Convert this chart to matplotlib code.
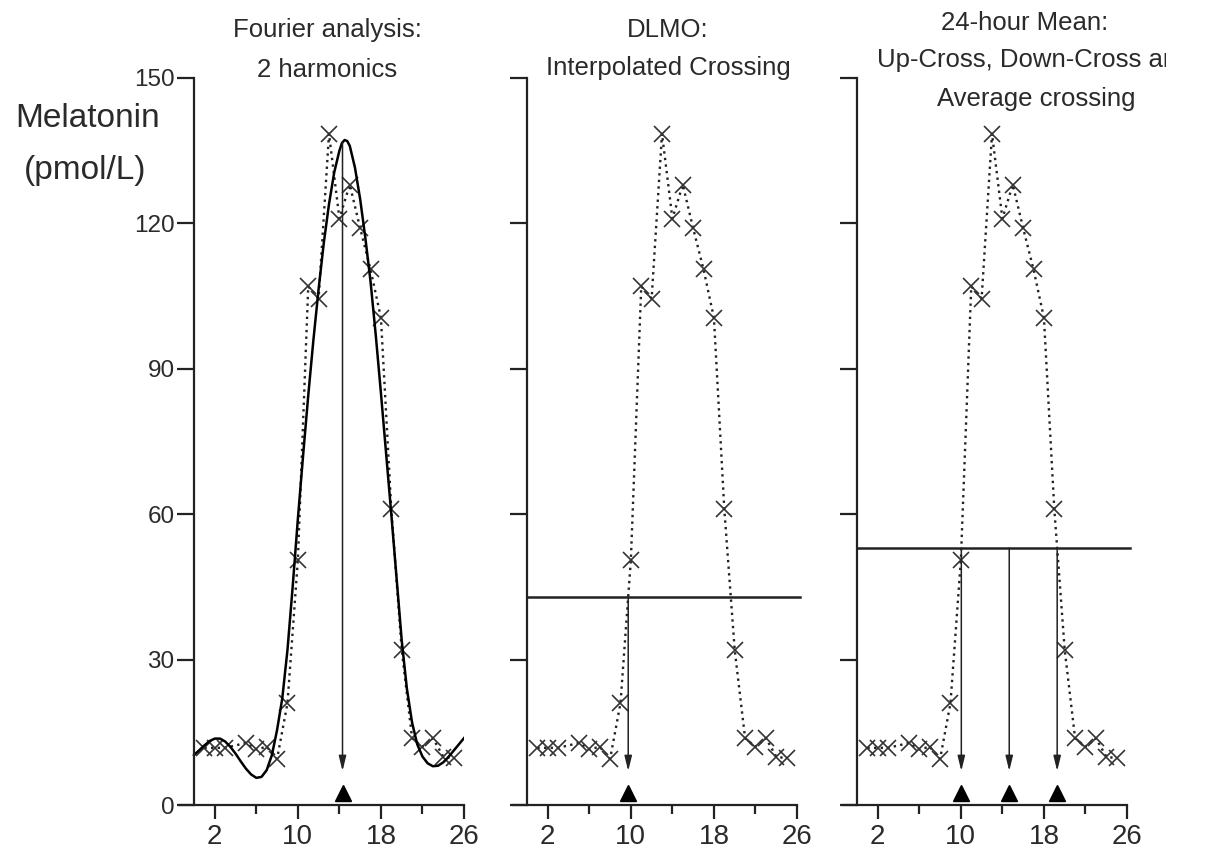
import numpy as np
import matplotlib
matplotlib.use('Agg')
import matplotlib.pyplot as plt

plt.rcParams['font.family'] = ['Liberation Sans', 'DejaVu Sans']

# sampled melatonin (hour, pmol/L)
hours = [1, 2, 3, 5, 6, 7, 8, 9, 10, 11, 12, 13, 14, 15, 16, 17, 18, 19, 20, 21, 22, 23, 24, 25]
melatonin = [11.8, 11.8, 11.8, 12.8, 11.5, 12.0, 9.5, 21, 50.5, 107, 104.5, 138.5, 121, 128,
             119, 110.5, 100.5, 61, 32, 13.8, 12, 13.8, 10, 9.6]

# 2-harmonic Fourier curve
fourier_x = [0, 0.5, 1, 1.5, 2, 2.5, 3, 3.5, 4, 4.5, 5, 5.5, 6, 6.5, 7, 7.5, 8, 8.5, 9, 9.5,
             10, 10.5, 11, 11.5, 12, 12.5, 13, 13.5, 14, 14.25, 14.5, 14.75, 15, 15.5, 16, 16.5,
             17, 17.5, 18, 18.5, 19, 19.5, 20, 20.5, 21, 21.5, 22, 22.5, 23, 23.5, 24, 24.5,
             25, 25.5, 26]
fourier_y = [10.3, 11.3, 12.3, 13.2, 13.7, 13.7, 13.1, 12.0, 10.6, 9.0, 7.5, 6.3, 5.6, 5.8, 7.2,
             10.3, 15.5, 22, 32, 45, 59, 72, 84.5, 96, 106.5, 116, 124, 130.5, 135, 136.6, 137.2,
             137.0, 136, 131.5, 125, 117, 108, 97, 85, 72.5, 60, 47, 34, 24, 17, 12.5, 10, 8.6,
             8.0, 8.1, 8.8, 9.9, 11.2, 12.5, 13.8]
fourier_peak = 14.3

dlmo_threshold = 43
mean_level = 53

yticks = [0, 30, 60, 90, 120, 150]
xticks = [2, 10, 18, 26]
xminor = [6, 14, 22]

INK = '#222222'
TXT = '#2a2a2a'


def crossings(x, y, level):
	out = []
	for i in range(len(x) - 1):
		y0, y1 = y[i], y[i + 1]
		if (y0 - level) * (y1 - level) < 0:
			out.append(x[i] + (level - y0) * (x[i + 1] - x[i]) / (y1 - y0))
	return out


def base_axes(ax, labels):
	ax.set_xlim(-1.35, 26)
	ax.set_ylim(0, 150)
	for s in ['top', 'right']:
		ax.spines[s].set_visible(False)
	ax.spines['left'].set_position(('data', 0))
	for s in ['left', 'bottom']:
		ax.spines[s].set_linewidth(1.6)
		ax.spines[s].set_color(INK)
	ax.set_xticks(xticks)
	ax.set_xticks(xminor, minor=True)
	ax.set_yticks(yticks)
	ax.tick_params(axis='y', which='major', direction='out', length=12, width=1.6,
		color=INK, labelsize=17.5, labelcolor=TXT, pad=2)
	ax.tick_params(axis='x', which='major', direction='out', length=10, width=1.6,
		color=INK, labelsize=20, labelcolor=TXT, pad=4)
	ax.tick_params(axis='x', which='minor', direction='out', length=6.5, width=1.6, color=INK)
	if not labels:
		ax.set_yticklabels([])
	ax.patch.set_alpha(0)


def samples(ax):
	ax.plot(hours, melatonin, linestyle=(0, (1, 1.8)), lw=1.7, color=INK,
		marker='x', markersize=12, markeredgewidth=1.2, markeredgecolor='#333333')


def arrow_down(ax, x, top):
	ax.annotate('', xy=(x, 7.0), xytext=(x, top),
		arrowprops=dict(arrowstyle='-|>,head_width=0.22,head_length=0.9', lw=1.1, color=INK,
			shrinkA=0, shrinkB=0))
	ax.plot([x], [2.5], marker='^', markersize=12, color='black', clip_on=False)


fig = plt.figure(figsize=(12.11, 8.55), dpi=100)
W, H = 1211.0, 855.0
lefts = [180, 513, 843]
axes = [fig.add_axes([l / W, (H - 805) / H, 284 / W, (805 - 78) / H]) for l in lefts]

# panel 1: Fourier fit
ax = axes[0]
base_axes(ax, True)
samples(ax)
ax.plot(fourier_x, fourier_y, color='black', lw=1.8)
arrow_down(ax, fourier_peak, np.interp(fourier_peak, fourier_x, fourier_y))

# panel 2: DLMO threshold crossing
ax = axes[1]
base_axes(ax, False)
samples(ax)
ax.plot([0, 26.3], [dlmo_threshold] * 2, color=INK, lw=1.8, clip_on=False)
up = crossings(hours, melatonin, dlmo_threshold)[0]
arrow_down(ax, up, dlmo_threshold)

# panel 3: 24-h mean crossings
ax = axes[2]
base_axes(ax, False)
samples(ax)
ax.plot([0, 26.3], [mean_level] * 2, color=INK, lw=1.8, clip_on=False)
cr = crossings(hours, melatonin, mean_level)
up, down = cr[0], cr[-1]
for x in [up, (up + down) / 2, down]:
	arrow_down(ax, x, mean_level)

# titles
fs = 18.5
fig.text(327 / W, 1 - 30 / H, "Fourier analysis:", ha='center', va='center', fontsize=fs, color=TXT)
fig.text(327 / W, 1 - 70 / H, "2 harmonics", ha='center', va='center', fontsize=fs, color=TXT)
fig.text(668 / W, 1 - 30 / H, "DLMO:", ha='center', va='center', fontsize=fs, color=TXT)
fig.text(668 / W, 1 - 68 / H, "Interpolated Crossing", ha='center', va='center', fontsize=fs, color=TXT)
fig.text(1025 / W, 1 - 23 / H, "24-hour Mean:", ha='center', va='center', fontsize=fs, color=TXT)
fig.text(877 / W, 1 - 60 / H, "Up-Cross, Down-Cross and", ha='left', va='center',
	fontsize=fs, color=TXT)
fig.text(1036 / W, 1 - 99 / H, "Average crossing", ha='center', va='center', fontsize=fs, color=TXT)
# the source figure is cropped on the right, cutting into the middle title line
fig.patches.append(plt.Rectangle((1166 / W, 1 - 80 / H), 45 / W, 40 / H, transform=fig.transFigure,
	facecolor='white', edgecolor='none', zorder=10))

fig.text(88 / W, 1 - 118 / H, "Melatonin", ha='center', va='center', fontsize=24, color=TXT)
fig.text(85 / W, 1 - 170 / H, "(pmol/L)", ha='center', va='center', fontsize=24, color=TXT)

fig.savefig('out.png', dpi=100, facecolor='white')
